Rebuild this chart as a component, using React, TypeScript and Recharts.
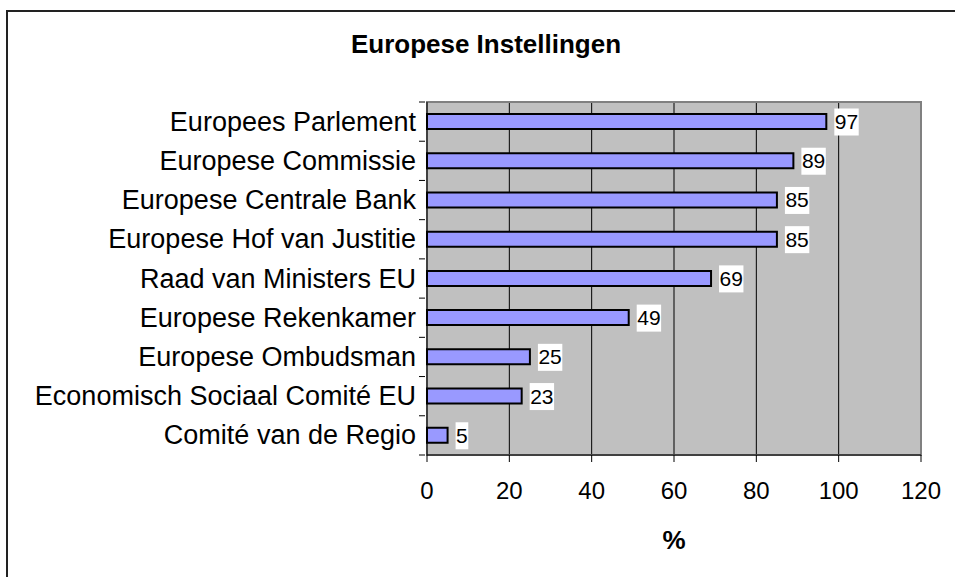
import React from "react";
import {
  Bar,
  BarChart,
  CartesianGrid,
  LabelList,
  ReferenceArea,
  XAxis,
  YAxis
} from "recharts";

const categories = [
  "Europees Parlement",
  "Europese Commissie",
  "Europese Centrale Bank",
  "Europese Hof van Justitie",
  "Raad van Ministers EU",
  "Europese Rekenkamer",
  "Europese Ombudsman",
  "Economisch Sociaal Comité EU",
  "Comité van de Regio"
];
const values = [97, 89, 85, 85, 69, 49, 25, 23, 5];
const xTicks = [0, 20, 40, 60, 80, 100, 120];

const data = categories.map((name, i) => ({ name, value: values[i] }));

const FONT = "'Liberation Sans', Arial, sans-serif";
const BAND = 353 / categories.length;

function CategoryTick(props: any) {
  const { x, y, payload, index } = props;
  const axisX = x + 6;
  return (
    <g>
      <line x1={axisX - 6} x2={axisX} y1={y - BAND / 2} y2={y - BAND / 2} stroke="#000" />
      {index === categories.length - 1 && (
        <line x1={axisX - 6} x2={axisX} y1={y + BAND / 2} y2={y + BAND / 2} stroke="#000" />
      )}
      <text
        x={axisX - 9}
        y={y}
        dy={9}
        textAnchor="end"
        fontSize={27}
        fontFamily={FONT}
        fill="#000"
      >
        {payload.value}
      </text>
    </g>
  );
}

function ValueLabel(props: any) {
  const { x, y, width, height, value } = props;
  const bx = x + width + 8;
  const cy = y + height / 2;
  const w = String(value).length * 11.7 + 1;
  return (
    <g>
      <rect x={bx} y={cy - 13} width={w} height={27} fill="#fff" />
      <text x={bx + 0.5} y={cy} dy={7.5} fontSize={21} fontFamily={FONT} fill="#000">
        {value}
      </text>
    </g>
  );
}

export default function App() {
  return (
    <div
      style={{
        position: "absolute",
        left: 0,
        top: 0,
        width: 955,
        height: 577,
        overflow: "hidden",
        background: "#fff"
      }}
    >
      <div
        style={{
          position: "absolute",
          left: 6,
          top: 10,
          width: 1000,
          height: 700,
          borderLeft: "2px solid #222",
          borderTop: "2px solid #222"
        }}
      />
      <div
        style={{
          position: "absolute",
          left: 0,
          top: 29,
          width: 972,
          textAlign: "center",
          fontFamily: FONT,
          fontWeight: "bold",
          fontSize: 26
        }}
      >
        Europese Instellingen
      </div>
      <div
        style={{
          position: "absolute",
          left: 427,
          top: 525,
          width: 494,
          textAlign: "center",
          fontFamily: FONT,
          fontWeight: "bold",
          fontSize: 26
        }}
      >
        %
      </div>
      <div style={{ position: "absolute", left: 0, top: 0 }}>
        <BarChart
          width={955}
          height={577}
          data={data}
          layout="vertical"
          margin={{ top: 102, right: 34, bottom: 82, left: 0 }}
          barCategoryGap={0}
        >
          <CartesianGrid
            horizontal={false}
            vertical
            stroke="#000"
            fill="#c0c0c0"
            fillOpacity={1}
          />
          <ReferenceArea
            x1={0}
            x2={120}
            fill="none"
            stroke="#808080"
            strokeWidth={2}
            ifOverflow="visible"
          />
          <XAxis
            type="number"
            domain={[0, 120]}
            ticks={xTicks}
            interval={0}
            height={40}
            stroke="#000"
            tickSize={7}
            tick={{ fill: "#000", fontSize: 24, fontFamily: FONT, dy: 18 }}
          />
          <YAxis
            type="category"
            dataKey="name"
            width={427}
            stroke="#000"
            tickLine={false}
            interval={0}
            tick={<CategoryTick />}
          />
          <Bar
            dataKey="value"
            fill="#9999ff"
            stroke="#000"
            strokeWidth={2}
            barSize={15}
            isAnimationActive={false}
          >
            <LabelList dataKey="value" content={<ValueLabel />} />
          </Bar>
        </BarChart>
      </div>
    </div>
  );
}
